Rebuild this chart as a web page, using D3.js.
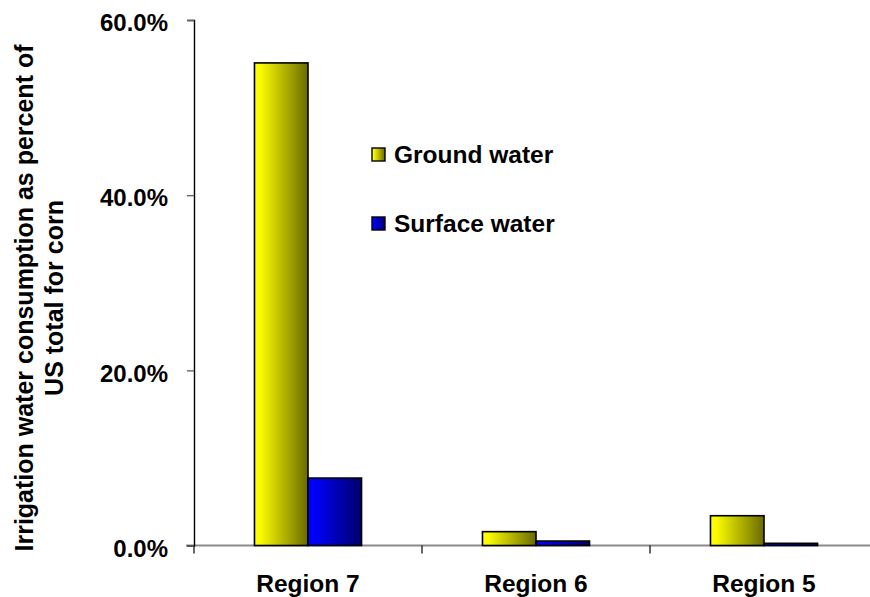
<!DOCTYPE html>
<html>
<head>
<meta charset="utf-8">
<script src="https://cdn.jsdelivr.net/npm/d3@7"></script>
<style>
  html, body { margin: 0; padding: 0; background: #fff; }
  svg { display: block; }
  text { font-family: "Liberation Sans", Arial, sans-serif; font-weight: bold; fill: #000; }
</style>
</head>
<body>
<svg id="chart" width="870" height="597"></svg>
<script>
const categories = ["Region 7", "Region 6", "Region 5"];
const seriesNames = ["Ground water", "Surface water"];
const groundWater = [0.551, 0.0158, 0.034];
const surfaceWater = [0.077, 0.0051, 0.0025];
const yTicks = [0, 0.2, 0.4, 0.6];
const titleLines = ["Irrigation water consumption as percent of", "US total for corn"];

const seriesValues = [groundWater, surfaceWater];
const gradients = [
  { id: "gGround", stops: [["0%", "#ffff00"], ["12%", "#fafa00"], ["100%", "#6a6a00"]] },
  { id: "gSurface", stops: [["0%", "#0000ff"], ["12%", "#0000fa"], ["100%", "#00006a"]] }
];

const svg = d3.select("#chart");
const defs = svg.append("defs");
gradients.forEach(g => {
  const lg = defs.append("linearGradient").attr("id", g.id)
    .attr("x1", "0").attr("x2", "1").attr("y1", "0").attr("y2", "0");
  g.stops.forEach(s => lg.append("stop").attr("offset", s[0]).attr("stop-color", s[1]));
});

const y = d3.scaleLinear().domain([0, 0.6]).range([545.5, 20]);
const x0 = d3.scaleBand().domain(categories).range([194, 878]).paddingInner(0).paddingOuter(0);
const x1 = d3.scaleBand().domain(seriesNames).range([0, x0.bandwidth()]).paddingInner(0).paddingOuter(1.13);

// x axis line (gray) and boundary ticks
svg.append("line")
  .attr("x1", 186).attr("x2", 870)
  .attr("y1", y(0)).attr("y2", y(0))
  .attr("stroke", "#8a8a8a").attr("stroke-width", 2);

const boundaries = categories.map(c => x0(c)).concat([x0(categories[categories.length - 1]) + x0.bandwidth()]);
svg.append("g").selectAll("line").data(boundaries).join("line")
  .attr("x1", d => d).attr("x2", d => d)
  .attr("y1", y(0)).attr("y2", y(0) + 8)
  .attr("stroke", "#000").attr("stroke-width", 1.2);

// bars
const barData = [];
categories.forEach((c, i) => {
  seriesNames.forEach((s, j) => barData.push({ cat: c, series: s, value: seriesValues[j][i], idx: j }));
});
svg.append("g").selectAll("rect").data(barData).join("rect")
  .attr("x", d => x0(d.cat) + x1(d.series))
  .attr("width", x1.bandwidth())
  .attr("y", d => y(d.value))
  .attr("height", d => y(0) - y(d.value))
  .attr("fill", d => `url(#${gradients[d.idx].id})`)
  .attr("stroke", "#000").attr("stroke-width", 1.6);

// y axis
const yAxis = d3.axisLeft(y).tickValues(yTicks).tickFormat(d3.format(".1%")).tickSize(7).tickPadding(19);
const gy = svg.append("g").attr("transform", "translate(194,0)").call(yAxis);
gy.select(".domain").attr("stroke", "#000").attr("stroke-width", 1.4);
gy.selectAll(".tick line").attr("stroke", "#666").attr("stroke-width", 1.4);
gy.selectAll(".tick text")
  .attr("font-size", 24)
  .attr("font-family", "'Liberation Sans', Arial, sans-serif")
  .attr("font-weight", "bold")
  .attr("dy", "0.45em")
  .attr("fill", "#000");

// category labels
svg.append("g").selectAll("text").data(categories).join("text")
  .attr("x", d => x0(d) + x0.bandwidth() / 2)
  .attr("y", 592)
  .attr("text-anchor", "middle")
  .attr("font-size", 24.5)
  .text(d => d);

// y axis title
titleLines.forEach((t, i) => {
  svg.append("text")
    .attr("transform", `translate(${33 + i * 30},298) rotate(-90)`)
    .attr("text-anchor", "middle")
    .attr("font-size", 25)
    .text(t);
});

// legend
const legend = svg.append("g");
seriesNames.forEach((s, i) => {
  const yy = 148 + i * 69;
  legend.append("rect")
    .attr("x", 372).attr("y", yy).attr("width", 13).attr("height", 13)
    .attr("fill", `url(#${gradients[i].id})`)
    .attr("stroke", "#000").attr("stroke-width", 1.4);
  legend.append("text")
    .attr("x", 394).attr("y", yy + 14.5)
    .attr("font-size", 24.5)
    .text(s);
});
</script>
</body>
</html>
